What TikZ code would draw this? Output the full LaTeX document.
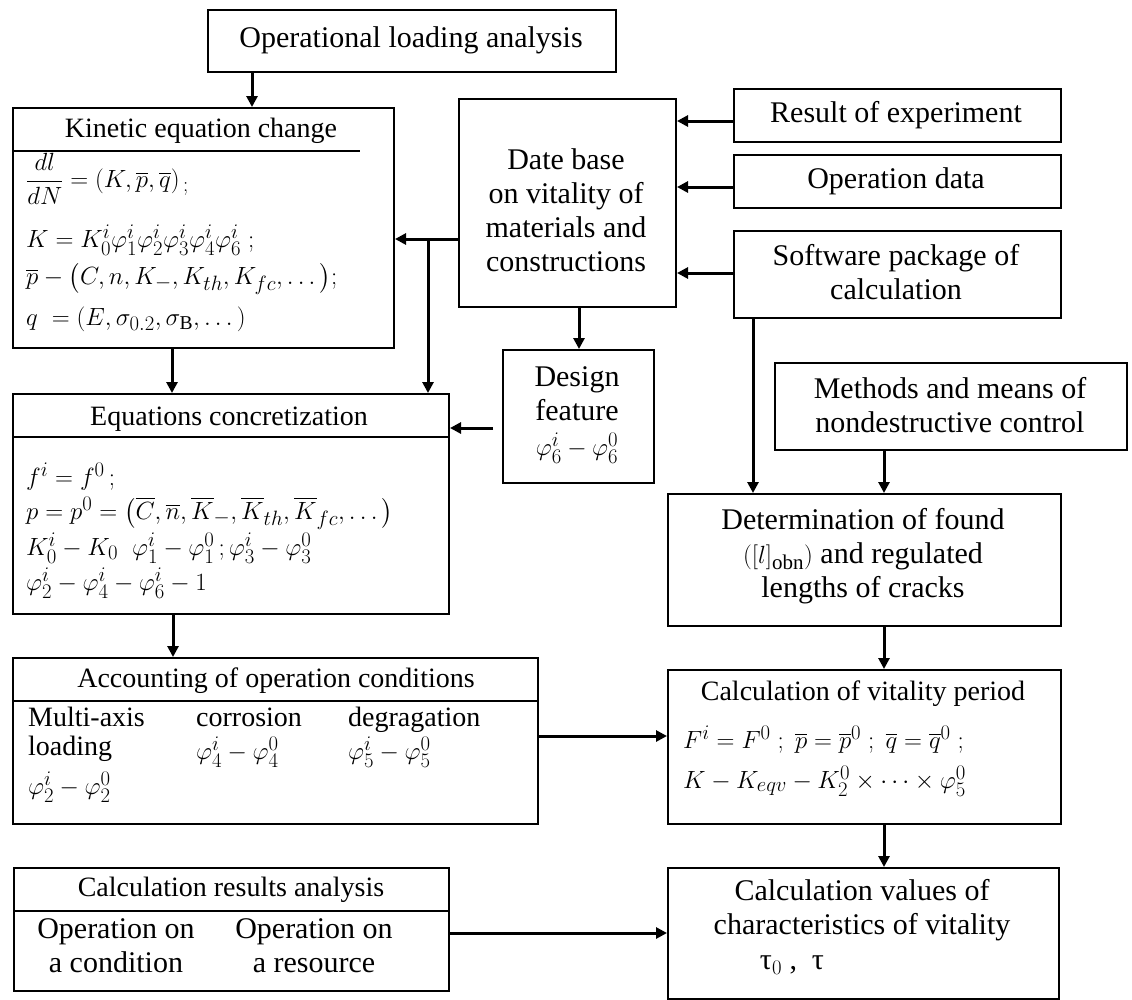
\documentclass[tikz,border=0pt]{standalone}
\usepackage{amsmath}
\usepackage{fontspec}
\setmainfont{Liberation Serif}
\usetikzlibrary{arrows.meta}
\tikzset{
  box/.style={draw, line width=2pt, anchor=north west, inner sep=0pt},
  sepline/.style={line width=2pt},
  arr/.style={line width=3pt, -{Triangle[length=11pt,width=11pt]}},
  txt/.style={font=\fontsize{30}{34}\selectfont, align=center, inner sep=0pt},
  row/.style={font=\fontsize{28}{30}\selectfont, anchor=base west, inner sep=0pt},
  hdr/.style={font=\fontsize{28}{32}\selectfont, align=center, inner sep=0pt},
  mth/.style={font=\fontsize{28}{32}\selectfont, anchor=west, inner sep=0pt},
}
\begin{document}
\begin{tikzpicture}[x=1pt,y=-1pt]
\useasboundingbox (0,0) rectangle (1132,999);

% ---------- boxes ----------
\node[box, minimum width=408pt, minimum height=62pt]  (ola) at (207,9)   {};
\node[box, minimum width=381pt, minimum height=240pt] (kin) at (12,107)  {};
\node[box, minimum width=217pt, minimum height=208pt] (db)  at (458,98)  {};
\node[box, minimum width=327pt, minimum height=53pt]  (res) at (733,88)  {};
\node[box, minimum width=327pt, minimum height=53pt]  (opd) at (733,154) {};
\node[box, minimum width=327pt, minimum height=87pt]  (sw)  at (733,230) {};
\node[box, minimum width=151pt, minimum height=133pt] (dsg) at (502,349) {};
\node[box, minimum width=436pt, minimum height=220pt] (eqc) at (12,393)  {};
\node[box, minimum width=352pt, minimum height=87pt]  (mm)  at (774,362) {};
\node[box, minimum width=393pt, minimum height=132pt] (det) at (667,493) {};
\node[box, minimum width=525pt, minimum height=166pt] (acc) at (12,657)  {};
\node[box, minimum width=393pt, minimum height=154pt] (vit) at (667,669) {};
\node[box, minimum width=435pt, minimum height=123pt] (cra) at (13,867)  {};
\node[box, minimum width=391pt, minimum height=131pt] (cv)  at (667,867) {};

% ---------- header separators ----------
\draw[sepline] (kin.west |- 0,151) -- (360,151);
\draw[sepline] (eqc.west |- 0,437) -- (eqc.east |- 0,437);
\draw[sepline] (acc.west |- 0,701) -- (acc.east |- 0,701);
\draw[sepline] (cra.west |- 0,911) -- (cra.east |- 0,911);

% ---------- texts ----------
\node[txt] (tola) at (411,40) {Operational loading analysis};

\node[hdr] (tkin) at (201,131) {Kinetic equation change};
\node[mth] (k1) at (26,179) {$\dfrac{dl}{dN}=(K,\overline{p},\overline{q})_{\,;}$};
\node[mth] (k2) at (26,240) {$K=K^{i}_{0}\varphi^{i}_{1}\varphi^{i}_{2}\varphi^{i}_{3}\varphi^{i}_{4}\varphi^{i}_{6}\ ;$};
\node[mth] (k3) at (26,279) {$\overline{p}-\bigl(C,n,K_{-},K_{th},K_{fc},\dots\bigr);$};
\node[mth] (k4) at (26,319) {$q\ =(E,\sigma_{0.2},\sigma_{\mathrm{B}},\dots)$};

\node[txt] (tdb) at (566,210) {Date base\\on vitality of\\materials and\\constructions};
\node[txt] (tres) at (896,115) {Result of experiment};
\node[txt] (topd) at (896,181) {Operation data};
\node[txt] (tsw) at (896,272) {Software package of\\calculation};

\node[txt] (tdsg) at (577,394) {Design\\feature};
\node[mth, anchor=center] (tdsgm) at (577,448) {$\varphi^{i}_{6}-\varphi^{0}_{6}$};

\node[hdr] (teqc) at (229,419) {Equations concretization};
\node[mth] (e1) at (26,477) {$f^{i}=f^{0}\,;$};
\node[mth] (e2) at (26,513) {$p=p^{0}=\bigl(\overline{C},\overline{n},\overline{K}_{-},\overline{K}_{th},\overline{K}_{fc},\dots\bigr)$};
\node[mth] (e3) at (26,548) {$K^{i}_{0}-K_{0}\ \ \varphi^{i}_{1}-\varphi^{0}_{1}\,;\varphi^{i}_{3}-\varphi^{0}_{3}$};
\node[mth] (e4) at (26,583) {$\varphi^{i}_{2}-\varphi^{i}_{4}-\varphi^{i}_{6}-1$};

\node[txt] (tmm) at (950,405) {Methods and means of\\nondestructive control};
\node[txt] (tdet) at (863,556) {Determination of found\\$([l]_{\mathrm{obn}})$ and regulated\\lengths of cracks};

\node[hdr] (tacc) at (276,681) {Accounting of operation conditions};
\node[row] (a1) at (28,726) {Multi-axis};
\node[row] (a1b) at (28,755) {loading};
\node[mth] (a1m) at (28,787) {$\varphi^{i}_{2}-\varphi^{0}_{2}$};
\node[row] (a2) at (196,726) {corrosion};
\node[mth] (a2m) at (196,752) {$\varphi^{i}_{4}-\varphi^{0}_{4}$};
\node[row] (a3) at (348,726) {degragation};
\node[mth] (a3m) at (348,752) {$\varphi^{i}_{5}-\varphi^{0}_{5}$};

\node[hdr] (tvit) at (863,694) {Calculation of vitality period};
\node[mth] (v1) at (683,740) {$F^{i}=F^{0}\ ;\ \overline{p}=\overline{p}^{0}\ ;\ \overline{q}=\overline{q}^{0}\ ;$};
\node[mth] (v2) at (683,781) {$K-K_{eqv}-K^{0}_{2}\times\cdots\times\varphi^{0}_{5}$};

\node[hdr] (tcra) at (231,890) {Calculation results analysis};
\node[txt] (c1) at (116,946) {Operation on\\a condition};
\node[txt] (c2) at (314,946) {Operation on\\a resource};

\node[txt] (tcv) at (862,910) {Calculation values of\\characteristics of vitality};
\node[txt] (ttau) at (792,965) {τ$_{0}$ ,\ \ τ};

% ---------- connectors ----------
\draw[arr] (252,0 |- ola.south) -- (252,0 |- kin.north);
\draw[arr] (db.west |- 0,239) -- (kin.east |- 0,239);
\coordinate (jn) at (428,239);
\draw[arr] (jn) -- (jn |- eqc.north);
\draw[arr] (res.west |- 0,121) -- (db.east |- 0,121);
\draw[arr] (opd.west |- 0,187) -- (db.east |- 0,187);
\draw[arr] (sw.west |- 0,273) -- (db.east |- 0,273);
\draw[arr] (579,0 |- db.south) -- (579,0 |- dsg.north);
\coordinate (dstub) at (493,428);
\draw[arr] (dstub) -- (eqc.east |- dstub);
\draw[arr] (172,0 |- kin.south) -- (172,0 |- eqc.north);
\draw[arr] (173,0 |- eqc.south) -- (173,0 |- acc.north);
\draw[arr] (753,0 |- sw.south) -- (753,0 |- det.north);
\draw[arr] (884,0 |- mm.south) -- (884,0 |- det.north);
\draw[arr] (884,0 |- det.south) -- (884,0 |- vit.north);
\draw[arr] (884,0 |- vit.south) -- (884,0 |- cv.north);
\draw[arr] (acc.east |- 0,736) -- (vit.west |- 0,736);
\draw[arr] (cra.east |- 0,933) -- (cv.west |- 0,933);
\end{tikzpicture}
\end{document}
